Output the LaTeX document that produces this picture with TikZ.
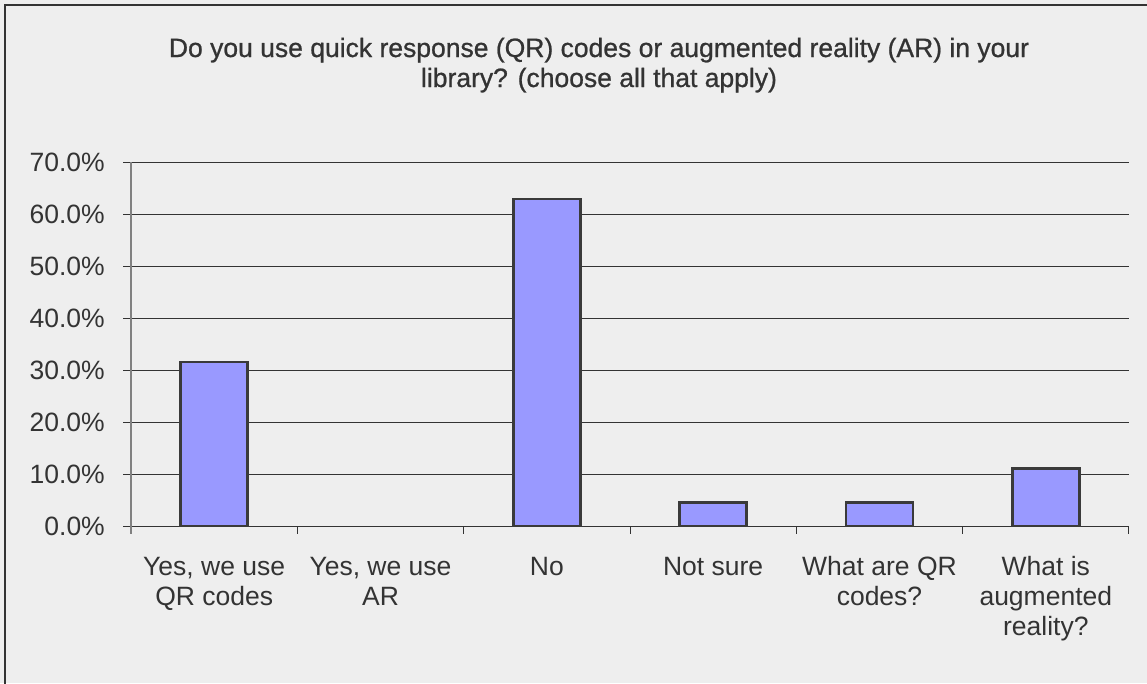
\documentclass[tikz,border=0pt]{standalone}
\usepackage{fontspec}
\setmainfont{Liberation Sans}
\newfontfamily\titlefont[FakeBold=0.8]{Liberation Sans}
\definecolor{bg}{HTML}{EEEEEE}
\definecolor{txt}{HTML}{333333}
\definecolor{gridc}{HTML}{333333}
\definecolor{axisc}{HTML}{808080}
\definecolor{barc}{HTML}{9999FF}
\definecolor{barline}{HTML}{3A3A3A}
\begin{document}
\begin{tikzpicture}[x=1pt,y=-1pt,
  gridline/.style={draw=gridc,line width=1pt},
  axisline/.style={draw=axisc,line width=1.2pt},
  barbox/.style={fill=barc,draw=barline,line width=2.5pt},
  ticklbl/.style={text=txt,font=\fontsize{26.5}{30}\selectfont,anchor=east,inner sep=0pt},
  catlbl/.style={text=txt,font=\fontsize{26.5}{30}\selectfont,align=center,anchor=base,inner sep=0pt},
  titlelbl/.style={text=txt,font=\titlefont\fontsize{26.5}{30}\selectfont,align=center,anchor=base,inner sep=0pt}]
\useasboundingbox (0,0) rectangle (1147,683);
\fill[bg] (0,0) rectangle (1147,683);
\draw[draw=txt,line width=2pt] (4.5,4.5) rectangle (1160,700);
% title (base anchor = baseline of last line)
\node[titlelbl] (title) at (599,87) {Do you use quick response (QR) codes or augmented reality (AR) in your\\library? (choose all that apply)};
% gridlines and y labels
\foreach \v/\t in {0/0.0,1/10.0,2/20.0,3/30.0,4/40.0,5/50.0,6/60.0,7/70.0}{
  \draw[gridline] (123,526-52*\v) -- (1129,526-52*\v);
  \node[ticklbl] (y\v) at (105,526-52*\v) {\t\%};
}
% y axis
\draw[axisline] (131,162) -- (131,534);
% category ticks
\foreach \i in {1,...,6}{
  \draw[gridline] ({131+166.33*\i},526) -- ({131+166.33*\i},534);
}
% bars
\foreach \i/\v in {1/31.5,3/62.9,4/4.5,5/4.5,6/11.1}{
  \draw[barbox] ({131+166.33*(\i-0.5)-33.5},526) rectangle ({131+166.33*(\i-0.5)+33.5},{526-5.2*\v});
}
% category labels (base = baseline of last line; first line at 575)
\node[catlbl] (c1) at ({131+166.33*0.5},605) {Yes, we use\\QR codes};
\node[catlbl] (c2) at ({131+166.33*1.5},605) {Yes, we use\\AR};
\node[catlbl] (c3) at ({131+166.33*2.5},575) {No};
\node[catlbl] (c4) at ({131+166.33*3.5},575) {Not sure};
\node[catlbl] (c5) at ({131+166.33*4.5},605) {What are QR\\codes?};
\node[catlbl] (c6) at ({131+166.33*5.5},635) {What is\\augmented\\reality?};
\end{tikzpicture}
\end{document}
